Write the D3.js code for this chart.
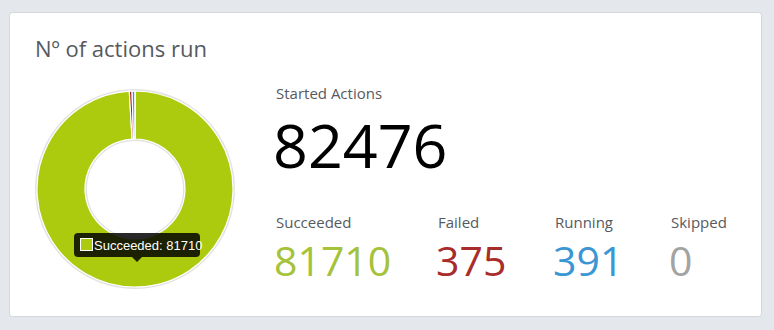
<!DOCTYPE html>
<html>
<head>
<meta charset="utf-8">
<script src="https://cdnjs.cloudflare.com/ajax/libs/d3/7.8.5/d3.min.js"></script>
<style>
  html, body { margin: 0; padding: 0; background: #e4e8ec; }
  svg { display: block; }
</style>
</head>
<body>
<svg id="chart" width="774" height="330"></svg>
<script>
// values
var statusNames = ['Succeeded', 'Failed', 'Running', 'Skipped'];
var statusCounts = [81710, 375, 391, 0];
var statusColors = ['#adcb0e', '#a52a2a', '#3a95d2', '#a3a3a3'];
var textColors = ['#a5c23b', '#a82c29', '#3b97d3', '#a3a3a3'];
var startedTotal = 82476;
var tooltipIndex = 0;

var svg = d3.select('#chart');
var font = '"Open Sans", sans-serif';

// card
svg.append('rect')
  .attr('x', 9.5).attr('y', 12.5)
  .attr('width', 752).attr('height', 304)
  .attr('rx', 3)
  .attr('fill', '#fff')
  .attr('stroke', '#d3d7da');

svg.append('text')
  .attr('x', 35).attr('y', 57)
  .attr('font-family', font)
  .attr('font-size', 22)
  .attr('fill', '#555a5e')
  .text('Nº of actions run');

// donut
var cx = 135, cy = 189, rOuter = 98, rInner = 50;
var g = svg.append('g').attr('transform', 'translate(' + cx + ',' + cy + ')');

var pie = d3.pie().sort(null).value(function(d) { return d; });
var arc = d3.arc().innerRadius(rInner).outerRadius(rOuter);
var arcs = pie(statusCounts);

g.append('circle').attr('r', rOuter + 1).attr('fill', 'none')
  .attr('stroke', '#e2e2e2').attr('stroke-width', 2);
g.append('circle').attr('r', rInner - 1).attr('fill', 'none')
  .attr('stroke', '#e2e2e2').attr('stroke-width', 2);

g.selectAll('path.slice').data(arcs)
  .enter()
    .append('path')
      .attr('class', 'slice')
      .attr('d', arc)
      .attr('fill', function(d, i) { return statusColors[i]; })
      .attr('stroke', '#fff')
      .attr('stroke-width', 1.2);

// tooltip on succeeded slice
var tip = svg.append('g').attr('transform', 'translate(74,233)');
tip.append('rect')
  .attr('width', 126).attr('height', 24).attr('rx', 4)
  .attr('fill', 'rgba(0,0,0,0.84)');
tip.append('path')
  .attr('d', 'M58,24 L63,29 L68,24 Z')
  .attr('fill', 'rgba(0,0,0,0.84)');
tip.append('rect')
  .attr('x', 6.5).attr('y', 5.5).attr('width', 12).attr('height', 12)
  .attr('fill', statusColors[tooltipIndex])
  .attr('stroke', '#fff').attr('stroke-width', 1);
tip.append('text')
  .attr('x', 20).attr('y', 16.5)
  .attr('font-family', 'Arial, "Liberation Sans", sans-serif')
  .attr('font-size', 13)
  .attr('fill', '#fff')
  .text(statusNames[tooltipIndex] + ': ' + statusCounts[tooltipIndex]);

// totals
svg.append('text')
  .attr('x', 276).attr('y', 99)
  .attr('font-family', font).attr('font-size', 15)
  .attr('fill', '#555a5e')
  .text('Started Actions');
svg.append('text')
  .attr('x', 273).attr('y', 168)
  .attr('font-family', font).attr('font-size', 61)
  .attr('fill', '#000')
  .text(startedTotal);

var colX = [276, 438, 555, 671];
var cols = svg.selectAll('g.stat').data(statusNames)
  .enter()
    .append('g')
      .attr('class', 'stat')
      .attr('transform', function(d, i) { return 'translate(' + colX[i] + ',0)'; });
cols.append('text')
  .attr('y', 227.5)
  .attr('font-family', font).attr('font-size', 15)
  .attr('fill', '#555a5e')
  .text(function(d) { return d; });
cols.append('text')
  .attr('x', -2)
  .attr('y', 276)
  .attr('font-family', font).attr('font-size', 41)
  .attr('fill', function(d, i) { return textColors[i]; })
  .text(function(d, i) { return statusCounts[i]; });
</script>
</body>
</html>
